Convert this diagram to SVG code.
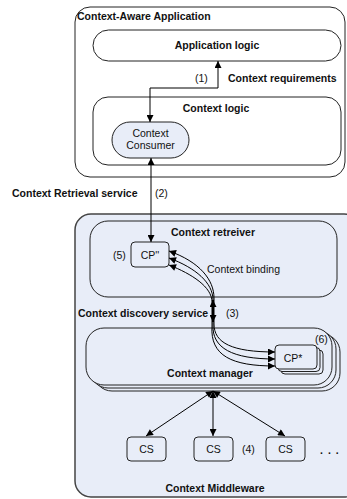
<svg xmlns="http://www.w3.org/2000/svg" width="347" height="499" viewBox="0 0 347 499">
<style>
.box{fill:#fff;stroke:#222;stroke-width:1}
.blue{fill:#e8edf8;stroke:#222;stroke-width:1}
.mw{fill:#e8edf8;stroke:#444;stroke-width:1.5}
.small{fill:#e8edf8;stroke:#222;stroke-width:1}
.b{font-family:"Liberation Sans",Arial,sans-serif;font-weight:bold;font-size:10.5px;fill:#111}
.r{font-family:"Liberation Sans",Arial,sans-serif;font-size:10.5px;fill:#111}
.m{text-anchor:middle}
.ln{fill:none;stroke:#000;stroke-width:1}
</style>
<defs>
<marker id="ah" viewBox="0 0 10 10" refX="10" refY="5" markerWidth="9" markerHeight="7" markerUnits="userSpaceOnUse" orient="auto-start-reverse">
<path d="M0,0 L10,5 L0,10 z" fill="#000"/>
</marker>
</defs>

<g id="context-aware-application">
<rect class="box" x="75" y="7" width="270" height="170" rx="15"/>
<text class="b" x="77" y="20">Context-Aware Application</text>
</g>
<g id="application-logic">
<rect class="box" x="93" y="30" width="248" height="31" rx="15.5"/>
<text class="b m" x="217" y="49">Application logic</text>
</g>
<g id="context-logic">
<rect class="box" x="93" y="97" width="248" height="68" rx="15"/>
<text class="b m" x="216" y="112">Context logic</text>
</g>
<g id="context-consumer">
<rect class="blue" x="112" y="122" width="77" height="36" rx="18"/>
<text class="r m" x="150.5" y="137">Context</text>
<text class="r m" x="150.5" y="149">Consumer</text>
</g>

<g id="context-middleware">
<rect class="mw" x="75" y="214" width="285" height="283" rx="16"/>
<text class="b m" x="215" y="492">Context Middleware</text>
</g>
<g id="context-retreiver">
<rect class="blue" x="90" y="221" width="247" height="76" rx="18"/>
<text class="b m" x="213" y="236">Context retreiver</text>
</g>
<g id="cp2">
<rect class="small" x="131" y="242" width="38" height="25" rx="4"/>
<text class="r m" x="150" y="259">CP''</text>
<text class="r" x="113" y="259">(5)</text>
</g>
<g id="context-manager">
<rect class="blue" x="94" y="334" width="246" height="57" rx="18"/>
<rect class="blue" x="90" y="331" width="246" height="57" rx="18"/>
<rect class="blue" x="86" y="328" width="246" height="57" rx="18"/>
<text class="b m" x="210" y="377">Context manager</text>
</g>
<g id="cp-star">
<rect class="small" x="281" y="350" width="42" height="24" rx="4"/>
<rect class="small" x="278" y="347.5" width="42" height="24" rx="4"/>
<rect class="small" x="275" y="345" width="42" height="24" rx="4"/>
<text class="r m" x="293" y="362">CP*</text>
<text class="r" x="315" y="343">(6)</text>
</g>
<g id="cs1">
<rect class="small" x="127" y="437" width="39" height="24" rx="4"/>
<text class="r m" x="146.5" y="453">CS</text>
</g>
<g id="cs2">
<rect class="small" x="194" y="437" width="39" height="24" rx="4"/>
<text class="r m" x="213.5" y="453">CS</text>
</g>
<g id="cs3">
<rect class="small" x="266" y="437" width="39" height="24" rx="4"/>
<text class="r m" x="285.5" y="453">CS</text>
</g>

<g id="connectors">
<path class="ln" d="M218,61 L218,88 L150,88 L150,122" marker-start="url(#ah)" marker-end="url(#ah)"/>
<path class="ln" d="M151,158 L151,242" marker-start="url(#ah)" marker-end="url(#ah)"/>
<path class="ln" d="M169,251 C200,262 214,280 214,298 L214,324 C214,343 232,352 275,352" marker-start="url(#ah)" marker-end="url(#ah)"/>
<path class="ln" d="M169,258 C196,268 213,283 213,300 L213,325 C212,348 232,359 275,359" marker-start="url(#ah)" marker-end="url(#ah)"/>
<path class="ln" d="M169,265 C192,274 212,287 212,302 L212,326 C210,356 232,366 275,366" marker-start="url(#ah)" marker-end="url(#ah)"/>
<path class="ln" d="M213,300 L213,322" style="stroke-width:2" marker-start="url(#ah)" marker-end="url(#ah)"/>
<path class="ln" d="M213,391 L146,436" marker-start="url(#ah)" marker-end="url(#ah)"/>
<path class="ln" d="M213,391 L213,436" marker-start="url(#ah)" marker-end="url(#ah)"/>
<path class="ln" d="M213,391 L285,436" marker-start="url(#ah)" marker-end="url(#ah)"/>
</g>

<g id="labels">
<text class="r" x="195" y="82">(1)</text>
<text class="b" x="228" y="82">Context requirements</text>
<text class="b" x="12" y="197">Context Retrieval service</text>
<text class="r" x="155" y="197">(2)</text>
<text class="r" x="207" y="273">Context binding</text>
<text class="b" x="78" y="317">Context discovery service</text>
<text class="r" x="226" y="317">(3)</text>
<text class="r" x="242" y="453">(4)</text>
<text class="b" x="320" y="454" style="letter-spacing:5px">...</text>
</g>
</svg>
